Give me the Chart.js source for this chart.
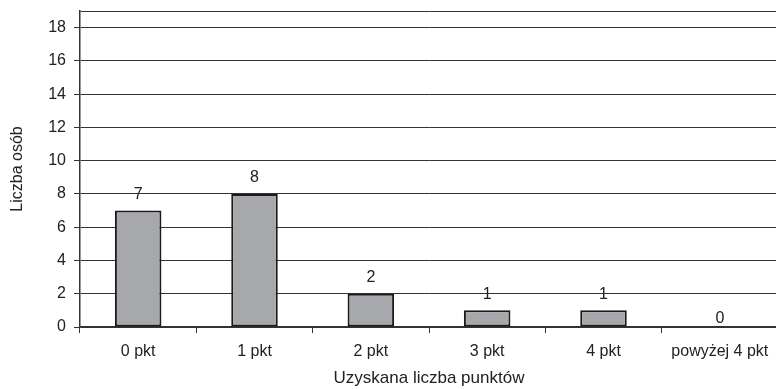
<!DOCTYPE html>
<html lang="pl">
<head>
    <meta charset="UTF-8">
    <title>Liczba osób</title>
    <style>
        body {
            margin: 0;
            background: #ffffff;
            overflow: hidden;
        }
        .chart-box {
            width: 780px;
            height: 389px;
        }
    </style>
</head>
<body>
<div class="chart-box">
    <canvas id="pointsChart" width="780" height="389"></canvas>
</div>

<script src="https://cdn.jsdelivr.net/npm/chart.js"></script>
<script>
    const categories = ['0 pkt', '1 pkt', '2 pkt', '3 pkt', '4 pkt', 'powyżej 4 pkt'];
    const people = [7, 8, 2, 1, 1, 0];
    const yTicks = [0, 2, 4, 6, 8, 10, 12, 14, 16, 18];
    const yMax = 19;

    const fontFamily = 'Arial, "Liberation Sans", sans-serif';
    const textColor = '#222222';
    const lineColor = '#333333';

    // value labels above bars, like Excel data labels
    const valueLabels = {
        id: 'valueLabels',
        afterDatasetsDraw(chart) {
            const ctx = chart.ctx;
            const meta = chart.getDatasetMeta(0);
            ctx.save();
            ctx.font = '16px ' + fontFamily;
            ctx.fillStyle = textColor;
            ctx.textAlign = 'center';
            ctx.textBaseline = 'bottom';
            meta.data.forEach((bar, i) => {
                const gap = people[i] === 0 ? 0 : 8;
                ctx.fillText(String(people[i]), bar.x, bar.y - gap);
            });
            ctx.restore();
        }
    };

    new Chart(document.getElementById('pointsChart').getContext('2d'), {
        type: 'bar',
        data: {
            labels: categories,
            datasets: [{
                label: 'Liczba osób',
                data: people,
                backgroundColor: '#a7a8ab',
                borderColor: '#1a1a1a',
                borderWidth: 2,
                borderSkipped: false,
                barPercentage: 0.4,
                categoryPercentage: 1.0
            }]
        },
        options: {
            responsive: false,
            animation: false,
            layout: {
                padding: { top: 11, right: 2, left: 0, bottom: 0 }
            },
            plugins: {
                legend: { display: false },
                tooltip: { enabled: false }
            },
            scales: {
                x: {
                    offset: true,
                    grid: {
                        offset: true,
                        drawOnChartArea: false,
                        drawTicks: true,
                        tickLength: 6,
                        color: lineColor
                    },
                    border: { color: lineColor, width: 1.5 },
                    ticks: {
                        color: textColor,
                        font: { family: fontFamily, size: 16 },
                        padding: 9,
                        maxRotation: 0
                    },
                    title: {
                        display: true,
                        text: 'Uzyskana liczba punktów',
                        color: textColor,
                        font: { family: fontFamily, size: 17 },
                        padding: { top: 4, bottom: 0 }
                    },
                    afterFit(scale) {
                        scale.height = 62;
                        scale.paddingLeft = 0;
                        scale.paddingRight = 0;
                    }
                },
                y: {
                    min: 0,
                    max: yMax,
                    afterBuildTicks(scale) {
                        scale.ticks = yTicks.concat([yMax]).map(v => ({ value: v }));
                    },
                    grid: {
                        color: lineColor,
                        lineWidth: 1,
                        tickLength: 6,
                        tickColor: ctx => (ctx.tick && ctx.tick.value === yMax ? 'rgba(0,0,0,0)' : lineColor)
                    },
                    border: { color: lineColor, width: 1.5 },
                    ticks: {
                        color: textColor,
                        font: { family: fontFamily, size: 16 },
                        padding: 8,
                        callback: v => (v === yMax ? '' : v)
                    },
                    title: {
                        display: true,
                        text: 'Liczba osób',
                        color: textColor,
                        font: { family: fontFamily, size: 16 },
                        padding: { top: 8, bottom: 0 }
                    },
                    afterFit(scale) {
                        scale.width = 80;
                        scale.paddingTop = 0;
                        scale.paddingBottom = 0;
                    }
                }
            }
        },
        plugins: [valueLabels]
    });
</script>
</body>
</html>
